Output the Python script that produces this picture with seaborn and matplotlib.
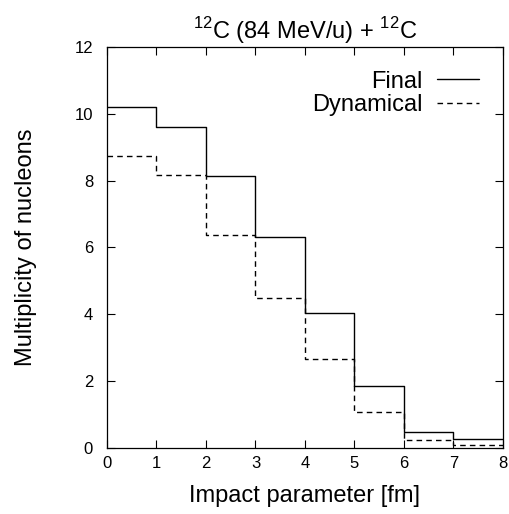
import numpy as np
import pandas as pd
import matplotlib
matplotlib.use("Agg")
import matplotlib.pyplot as plt
import seaborn as sns

# impact parameter bins [fm] and multiplicities
bin_edges = [0, 1, 2, 3, 4, 5, 6, 7, 8]
final = [10.2, 9.6, 8.13, 6.3, 4.05, 1.86, 0.47, 0.26]
dynamical = [8.75, 8.18, 6.38, 4.48, 2.66, 1.09, 0.23, 0.10]
series_names = ["Final", "Dynamical"]

sns.set_theme(style="ticks")
plt.rcParams["font.family"] = ["Liberation Sans", "DejaVu Sans"]
plt.rcParams["mathtext.fontset"] = "custom"
plt.rcParams["mathtext.rm"] = "Liberation Sans"
plt.rcParams["text.color"] = "black"
plt.rcParams["axes.labelcolor"] = "black"

centers = [(a + b) / 2 for a, b in zip(bin_edges[:-1], bin_edges[1:])]
df = pd.DataFrame({
    "b": centers * 2,
    "mult": final + dynamical,
    "kind": [series_names[0]] * len(final) + [series_names[1]] * len(dynamical),
})

fig = plt.figure(figsize=(5.10, 5.14), dpi=100)
ax = fig.add_axes([0.2098, 0.1284, 0.7762, 0.7802])

styles = {"Final": "-", "Dynamical": (0, (4, 3))}
for name in series_names:
    sub = df[df.kind == name]
    sns.histplot(data=sub, x="b", weights="mult", bins=bin_edges,
                 element="step", fill=False, color="black",
                 linewidth=1.0, linestyle=styles[name], label=name, ax=ax)

ax.set_xlim(0, 8)
ax.set_ylim(0, 12)
ax.set_xticks(range(0, 9))
ax.set_yticks(range(0, 13, 2))
ax.tick_params(direction="in", top=True, right=True, length=6, width=0.8,
               labelsize=12, colors="black")
ax.tick_params(axis="x", pad=6)
ax.tick_params(axis="y", pad=10)
for s in ax.spines.values():
    s.set_linewidth(0.9)
    s.set_color("black")

ax.set_xlabel("Impact parameter [fm]", fontsize=17, labelpad=10)
ax.set_ylabel("Multiplicity of nucleons", fontsize=17, labelpad=27)
ax.set_title(r"$^{\mathrm{12}}$C (84 MeV/u) + $^{\mathrm{12}}$C", fontsize=17, pad=6)

ax.legend(loc="upper right", markerfirst=False, frameon=False, fontsize=17,
          handlelength=1.8, handletextpad=0.6, labelspacing=0.05,
          borderpad=0.4, borderaxespad=0.6)

fig.savefig("out.png", dpi=100)
